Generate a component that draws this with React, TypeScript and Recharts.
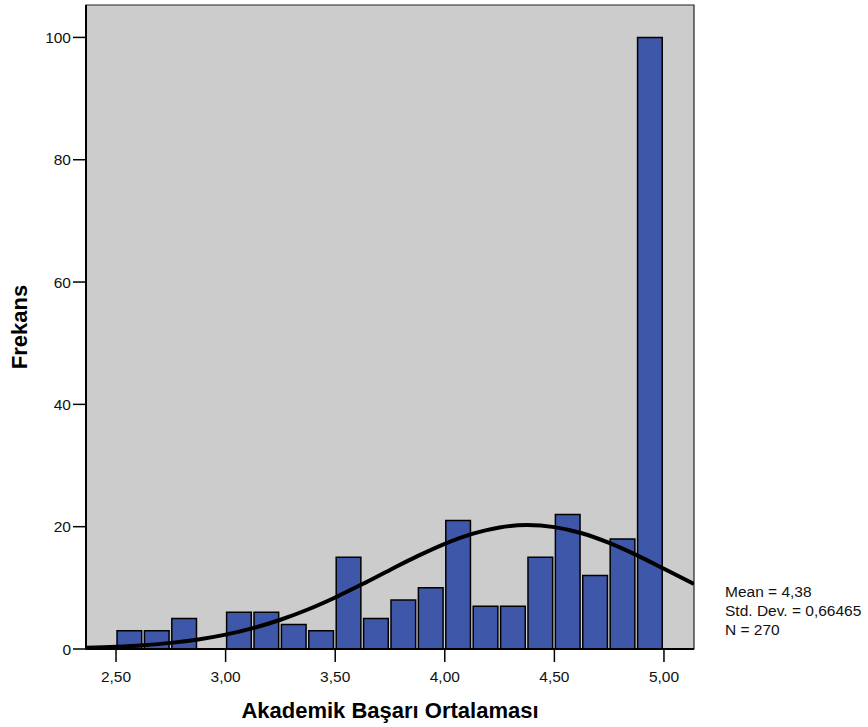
import React from 'react';
import { ComposedChart, Bar, Line, XAxis, YAxis, ReferenceArea } from 'recharts';

// Histogram bins (bin centres) and frequencies
const binCenters = [
  2.5625, 2.6875, 2.8125, 2.9375, 3.0625, 3.1875, 3.3125, 3.4375, 3.5625, 3.6875,
  3.8125, 3.9375, 4.0625, 4.1875, 4.3125, 4.4375, 4.5625, 4.6875, 4.8125, 4.9375,
];
const frequencies = [3, 3, 5, 0, 6, 6, 4, 3, 15, 5, 8, 10, 21, 7, 7, 15, 22, 12, 18, 100];

// Normal curve (Mean 4,38, SD 0,66465, N 270)
const curveX = [
  2.363, 2.5, 2.625, 2.75, 2.875, 3.0, 3.125, 3.25, 3.375, 3.5, 3.625, 3.75, 3.875,
  4.0, 4.125, 4.25, 4.375, 4.5, 4.625, 4.75, 4.875, 5.0, 5.137,
];
const curveY = [
  0.2, 0.37, 0.62, 1.0, 1.56, 2.35, 3.41, 4.78, 6.46, 8.43, 10.63, 12.93, 15.18,
  17.2, 18.82, 19.88, 20.26, 19.93, 18.93, 17.35, 15.35, 13.11, 10.65,
];

const xTicks = [2.5, 3.0, 3.5, 4.0, 4.5, 5.0];
const yTicks = [0, 20, 40, 60, 80, 100];
const statLines = ['Mean = 4,38', 'Std. Dev. = 0,66465', 'N = 270'];

const xTitle = 'Akademik Başarı Ortalaması';
const yTitle = 'Frekans';

const X_MIN = 2.363;
const X_MAX = 5.137;
const Y_MAX = 105.3;
const BIN_WIDTH = 0.125;

const barData = binCenters.map((x, i) => ({ x, freq: frequencies[i] }));
const curveData = curveX.map((x, i) => ({ x, fit: curveY[i] }));

const W = 868;
const H = 727;
const M = { top: 5, right: 174, left: 0, bottom: 0 };
const Y_AXIS_W = 86;
const X_AXIS_H = 78;
const PLOT_W = W - M.left - M.right - Y_AXIS_W;
const BAR_SIZE = (PLOT_W * BIN_WIDTH) / (X_MAX - X_MIN);

const FONT = '"Liberation Sans", Arial, sans-serif';

const fmt = (v: number) => v.toFixed(2).replace('.', ',');

export default function App() {
  return (
    <div style={{ position: 'absolute', left: 0, top: 0, width: W, height: H, background: '#fff', fontFamily: FONT }}>
      <ComposedChart width={W} height={H} margin={M} data={barData} barCategoryGap={0} barGap={0}>
        <ReferenceArea
          x1={X_MIN}
          x2={X_MAX}
          y1={0}
          y2={Y_MAX}
          fill="#cccccc"
          fillOpacity={1}
          stroke="#222"
          strokeWidth={1.2}
          ifOverflow="visible"
        />
        <XAxis
          dataKey="x"
          type="number"
          domain={[X_MIN, X_MAX]}
          allowDataOverflow
          ticks={xTicks}
          tickFormatter={fmt}
          height={X_AXIS_H}
          tickSize={13}
          tickMargin={9}
          axisLine={{ stroke: '#000', strokeWidth: 2 }}
          tickLine={{ stroke: '#000', strokeWidth: 1.5 }}
          tick={{ fill: '#111', fontSize: 15.5, fontFamily: FONT }}
          label={{
            content: () => (
              <text x={390} y={718} textAnchor="middle" fontFamily={FONT} fontSize={22} fontWeight="bold" fill="#000">
                {xTitle}
              </text>
            ),
          }}
        />
        <XAxis
          xAxisId="curve"
          dataKey="x"
          type="number"
          domain={[X_MIN, X_MAX]}
          allowDataOverflow
          hide
          height={X_AXIS_H}
        />
        <YAxis
          type="number"
          domain={[0, Y_MAX]}
          allowDataOverflow
          ticks={yTicks}
          width={Y_AXIS_W}
          tickSize={13}
          tickMargin={2}
          axisLine={{ stroke: '#000', strokeWidth: 2 }}
          tickLine={{ stroke: '#000', strokeWidth: 1.5 }}
          tick={{ fill: '#111', fontSize: 15.5, fontFamily: FONT }}
          label={{
            content: () => (
              <text
                x={27}
                y={327}
                transform="rotate(-90 27 327)"
                textAnchor="middle"
                fontFamily={FONT}
                fontSize={22}
                fontWeight="bold"
                fill="#000"
              >
                {yTitle}
              </text>
            ),
          }}
        />
        <Bar
          dataKey="freq"
          barSize={BAR_SIZE}
          fill="#3e57a8"
          stroke="#000"
          strokeWidth={1.5}
          isAnimationActive={false}
        />
        <Line
          xAxisId="curve"
          data={curveData}
          dataKey="fit"
          type="monotone"
          dot={false}
          stroke="#000"
          strokeWidth={4}
          isAnimationActive={false}
        />
      </ComposedChart>
      <div
        style={{
          position: 'absolute',
          left: 725,
          top: 582,
          fontSize: 15.5,
          lineHeight: '19px',
          color: '#111',
          fontFamily: FONT,
          whiteSpace: 'nowrap',
        }}
      >
        {statLines.map((s) => (
          <div key={s}>{s}</div>
        ))}
      </div>
    </div>
  );
}
